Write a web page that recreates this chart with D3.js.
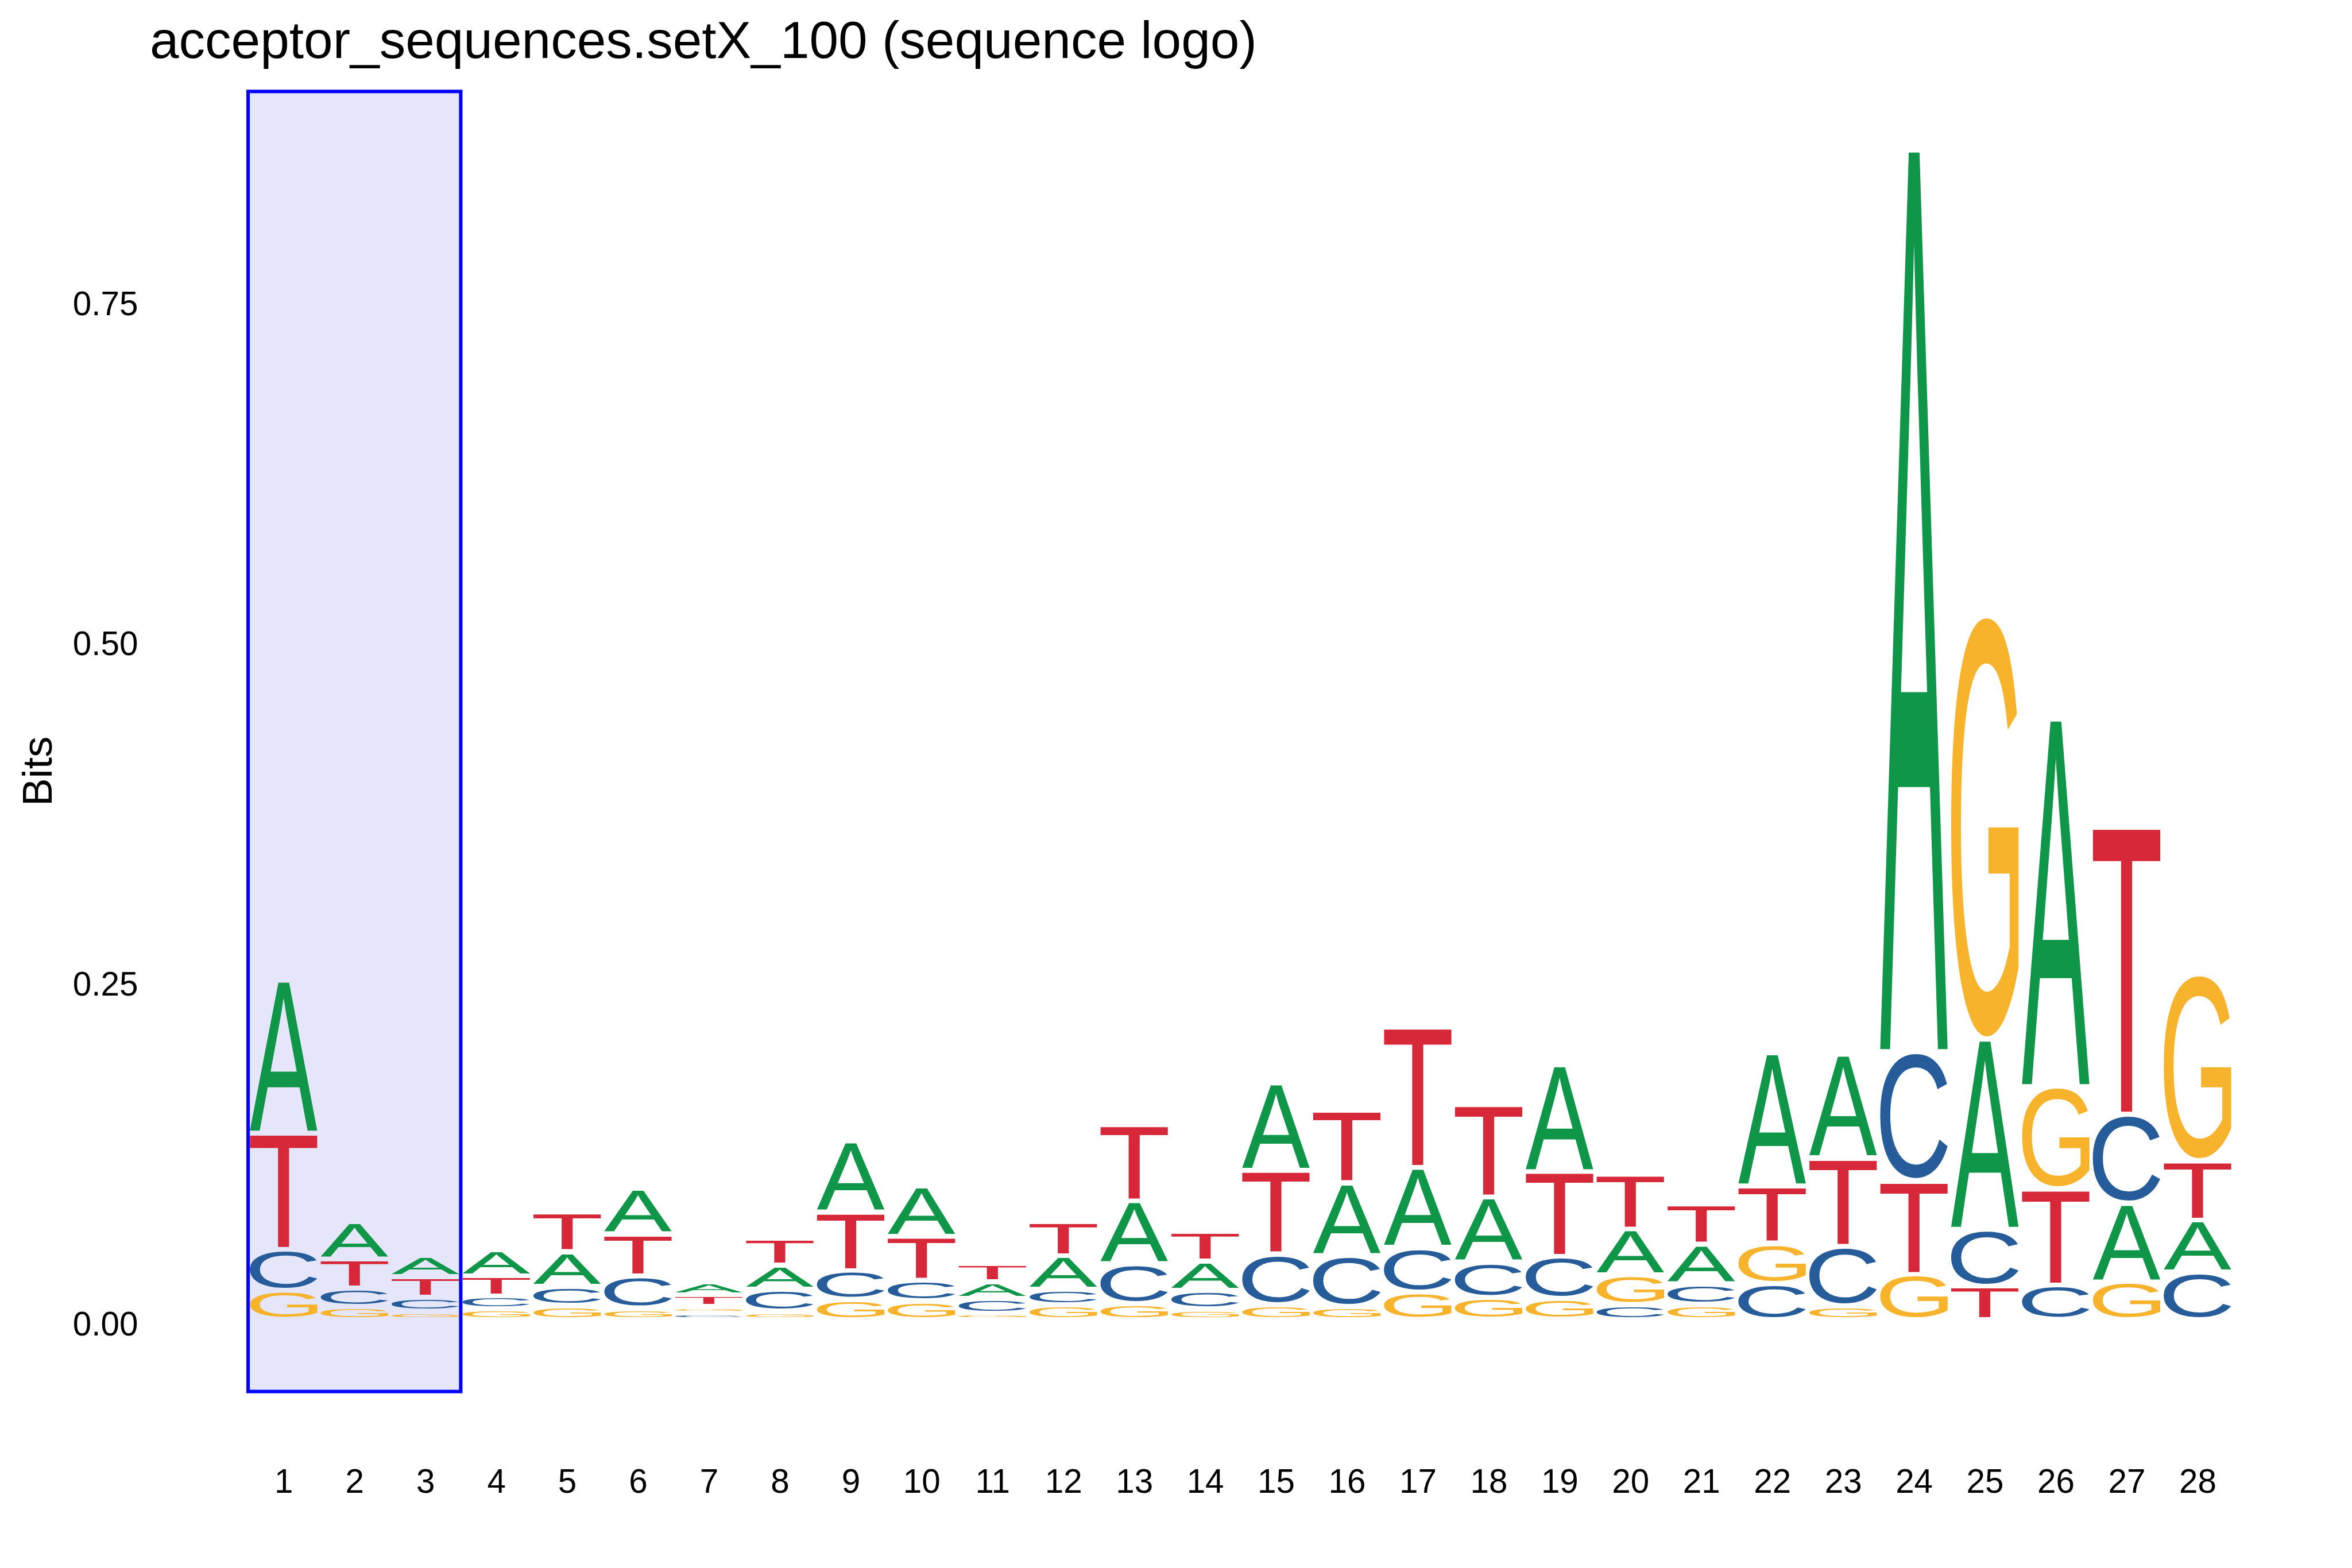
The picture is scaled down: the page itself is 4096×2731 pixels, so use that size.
<!DOCTYPE html>
<html>
<head>
<meta charset="utf-8">
<script src="https://cdn.jsdelivr.net/npm/d3@7"></script>
<style>
  html, body { margin: 0; padding: 0; background: #ffffff; }
  svg { display: block; }
</style>
</head>
<body>
<svg id="chart" width="4096" height="2731"></svg>
<script>
// ---------------- DATA (information content, bits) ----------------
const positions = [1, 2, 3, 4, 5, 6, 7, 8, 9, 10, 11, 12, 13, 14, 15, 16, 17, 18, 19, 20, 21, 22, 23, 24, 25, 26, 27, 28];
const letters = ["A", "C", "G", "T"];
const valuesA = [0.1125, 0.0273, 0.0155, 0.0192, 0.0255, 0.0333, 0.0095, 0.0177, 0.0523, 0.0373,
                 0.0121, 0.0248, 0.0464, 0.0216, 0.0642, 0.0532, 0.0588, 0.0481, 0.0787, 0.0337,
                 0.0292, 0.0980, 0.0762, 0.6630, 0.1400, 0.2704, 0.0579, 0.0382];
const valuesC = [0.0302, 0.0135, 0.0103, 0.0095, 0.0144, 0.0238, 0.0045, 0.0164, 0.0212, 0.0153,
                 0.0108, 0.0112, 0.0291, 0.0139, 0.0371, 0.0376, 0.0327, 0.0259, 0.0308, 0.0110,
                 0.0150, 0.0267, 0.0438, 0.0948, 0.0418, 0.0252, 0.0652, 0.0348];
const valuesG = [0.0214, 0.0097, 0.0061, 0.0079, 0.0102, 0.0084, 0.0050, 0.0060, 0.0148, 0.0137,
                 0.0047, 0.0110, 0.0119, 0.0077, 0.0109, 0.0096, 0.0203, 0.0162, 0.0155, 0.0220,
                 0.0110, 0.0295, 0.0101, 0.0335, 0.3110, 0.0753, 0.0279, 0.1373];
const valuesT = [0.0855, 0.0216, 0.0151, 0.0148, 0.0293, 0.0305, 0.0086, 0.0198, 0.0431, 0.0323,
                 0.0135, 0.0253, 0.0559, 0.0220, 0.0617, 0.0536, 0.1033, 0.0681, 0.0624, 0.0405,
                 0.0296, 0.0420, 0.0649, 0.0687, 0.0245, 0.0707, 0.2110, 0.0438];
const yTickValues = [0.00, 0.25, 0.50, 0.75];
const yTickLabels = ["0.00", "0.25", "0.50", "0.75"];
const xTickLabels = positions.map(String);
const titleText = "acceptor_sequences.setX_100 (sequence logo)";
const yLabelText = "Bits";
const highlightRange = [1, 3];
const yLimits = [-0.0529, 0.9031];

// ---------------- STYLE / LAYOUT ----------------
const W = 4096, H = 2731;
const S = W / 5400;                       // reference -> page scale
const FONT = "'Liberation Sans', Arial, Helvetica, sans-serif";
const colors = { A: "#109648", C: "#255C99", G: "#F7B32B", T: "#D62839" };
const vsep = 0.00375;                     // gap between stacked glyphs (data units)
const glyphWidth = 0.95;                  // fraction of a column

const svg = d3.select("#chart");

const x = d3.scaleLinear().domain([0.5, 28.5]).range([569.6 * S, 5126.6 * S]);
const y = d3.scaleLinear().domain([0, 1]).range([3030 * S, (3030 - 3122.6) * S]);

// ---------------- highlight ----------------
svg.append("rect")
  .attr("x", x(highlightRange[0] - 0.5))
  .attr("y", y(yLimits[1]))
  .attr("width", x(highlightRange[1] + 0.5) - x(highlightRange[0] - 0.5))
  .attr("height", y(yLimits[0]) - y(yLimits[1]))
  .attr("fill", "#E6E6FA")
  .attr("stroke", "#0000FF")
  .attr("stroke-width", 8 * S);

// ---------------- glyph ink bounds (pixel scan) ----------------
const REF = 1000;
function inkBounds(letter) {
  const cw = 1600, ch = 1600, ox = 300, oy = 1250;
  const c = document.createElement("canvas");
  c.width = cw; c.height = ch;
  const cx = c.getContext("2d");
  cx.font = REF + "px " + FONT;
  cx.textBaseline = "alphabetic";
  cx.fillStyle = "#000";
  cx.fillText(letter, ox, oy);
  const d = cx.getImageData(0, 0, cw, ch).data;
  let minX = Infinity, maxX = -1, minY = Infinity, maxY = -1;
  for (let yy = 0; yy < ch; yy++) {
    const row = yy * cw * 4;
    for (let xx = 0; xx < cw; xx++) {
      if (d[row + xx * 4 + 3] > 127) {
        if (xx < minX) minX = xx;
        if (xx > maxX) maxX = xx;
        if (yy < minY) minY = yy;
        if (yy > maxY) maxY = yy;
      }
    }
  }
  if (maxX < 0) {
    const m = cx.measureText(letter);
    return { L: m.actualBoundingBoxLeft, R: m.actualBoundingBoxRight,
             A: m.actualBoundingBoxAscent, D: m.actualBoundingBoxDescent };
  }
  return { L: ox - minX, R: maxX + 1 - ox, A: oy - minY, D: maxY + 1 - oy };
}
const metrics = {};
letters.forEach(l => { metrics[l] = inkBounds(l); });

// ---------------- stacks ----------------
const series = { A: valuesA, C: valuesC, G: valuesG, T: valuesT };
const glyphs = [];
positions.forEach((p, i) => {
  const vals = letters.map(l => ({ letter: l, value: series[l][i] }));
  vals.sort((a, b) => a.value - b.value);
  let floor = 0;
  vals.forEach(v => {
    glyphs.push({ pos: p, letter: v.letter, floor: floor, ceil: floor + v.value });
    floor += v.value;
  });
});

const gG = svg.append("g").attr("class", "glyphs");
glyphs.forEach(g => {
  const yTop = y(g.ceil - vsep / 2);
  const yBot = y(g.floor + vsep / 2);
  const h = yBot - yTop;
  if (h <= 0.3) return;
  const x0 = x(g.pos - glyphWidth / 2);
  const w = x(g.pos + glyphWidth / 2) - x0;
  const m = metrics[g.letter];
  const sx = w / (m.L + m.R);
  const sy = h / (m.A + m.D);
  gG.append("text")
    .attr("x", 0).attr("y", 0)
    .attr("font-family", FONT)
    .attr("font-size", REF)
    .attr("fill", colors[g.letter])
    .attr("transform", `translate(${x0},${yTop}) scale(${sx},${sy}) translate(${m.L},${m.A})`)
    .text(g.letter);
});

// ---------------- axes ----------------
const yAxis = d3.axisLeft(y)
  .tickValues(yTickValues)
  .tickFormat((d, i) => yTickLabels[i])
  .tickSize(0).tickPadding(0);
const yAx = svg.append("g")
  .attr("transform", `translate(${317 * S},0)`)
  .call(yAxis);
yAx.select(".domain").remove();
yAx.selectAll("text")
  .attr("font-family", FONT)
  .attr("font-size", 77 * S)
  .attr("fill", "#000")
  .attr("dy", "0.46em");

const xAxis = d3.axisBottom(x)
  .tickValues(positions)
  .tickFormat((d, i) => xTickLabels[i])
  .tickSize(0).tickPadding(0);
const xAx = svg.append("g")
  .attr("transform", `translate(0,${3427.5 * S - 0.71 * 77 * S})`)
  .call(xAxis);
xAx.select(".domain").remove();
xAx.selectAll("text")
  .attr("font-family", FONT)
  .attr("font-size", 77 * S)
  .attr("fill", "#000");

// ---------------- labels ----------------
svg.append("text")
  .attr("x", 344 * S)
  .attr("y", 133.7 * S)
  .attr("font-family", FONT)
  .attr("font-size", 120 * S)
  .attr("fill", "#000")
  .text(titleText);

svg.append("text")
  .attr("transform", `translate(${119 * S},${1771 * S}) rotate(-90)`)
  .attr("text-anchor", "middle")
  .attr("font-family", FONT)
  .attr("font-size", 96 * S)
  .attr("fill", "#000")
  .text(yLabelText);
</script>
</body>
</html>
